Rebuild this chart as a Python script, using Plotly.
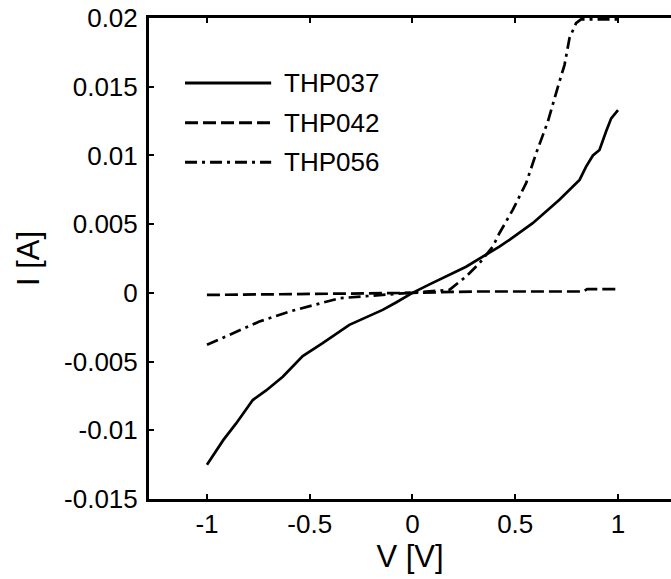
import plotly.graph_objects as go

# ---- data ----
names = ["THP037", "THP042", "THP056"]

v_thp037 = [-1.0, -0.92, -0.858, -0.777, -0.712, -0.631, -0.534, -0.437, -0.307, -0.145,
            -0.08, 0.0, 0.083, 0.261, 0.423, 0.472, 0.585, 0.715, 0.813,
            0.845, 0.878, 0.91, 0.942, 0.967, 1.0]
i_thp037 = [-0.0125, -0.0107, -0.0095, -0.0078, -0.0071, -0.0061, -0.0046, -0.00366, -0.00233, -0.00124,
            -0.0007, 0.0, 0.00062, 0.0019, 0.00337, 0.00386, 0.00507, 0.00677, 0.00822,
            0.00919, 0.0100, 0.0104, 0.01174, 0.0127, 0.0133]

v_thp042 = [-1.0, -0.6, -0.35, -0.3, 0.0, 0.3, 0.6, 0.83, 0.85, 1.0]
i_thp042 = [-0.00015, -0.00012, -0.0001, -0.00005, 0.0, 0.0001, 0.0001, 0.0001, 0.00027, 0.00027]

v_thp056 = [-1.0, -0.858, -0.745, -0.599, -0.47, -0.355, -0.146, 0.0, 0.18, 0.261, 0.326,
            0.391, 0.423, 0.488, 0.553, 0.602, 0.659, 0.708, 0.740, 0.764, 0.796, 0.82, 1.0]
i_thp056 = [-0.00378, -0.00282, -0.00209, -0.00136, -0.00087, -0.00039, -0.00015, 0.0, 0.00022, 0.00119, 0.00216,
            0.00337, 0.00434, 0.00604, 0.00798, 0.01016, 0.01247, 0.01501, 0.01659, 0.01853, 0.01962, 0.0199, 0.0199]

x_ticks = [-1, -0.5, 0, 0.5, 1]
x_ticklabels = ["-1", "-0.5", "0", "0.5", "1"]
y_ticks = [-0.015, -0.01, -0.005, 0, 0.005, 0.01, 0.015, 0.02]
y_ticklabels = ["-0.015", "-0.01", "-0.005", "0", "0.005", "0.01", "0.015", "0.02"]

# ---- styling ----
FONT = "Liberation Sans, Arial, sans-serif"
FS = 26
dashes = ["solid", "13px,5px", "12px,5px,3px,5px"]
series = [(v_thp037, i_thp037), (v_thp042, i_thp042), (v_thp056, i_thp056)]

fig = go.Figure()
for (vx, iy), nm, ds in zip(series, names, dashes):
    fig.add_trace(go.Scatter(x=vx, y=iy, mode="lines", name=nm, showlegend=False,
                             line=dict(color="black", width=2.7, dash=ds)))

# custom legend (MATLAB style, long samples, no box)
leg_y = [0.865, 0.782, 0.700]
for nm, ds, ly in zip(names, dashes, leg_y):
    fig.add_shape(type="line", xref="paper", yref="paper", x0=0.069, x1=0.234, y0=ly, y1=ly,
                  line=dict(color="black", width=3, dash=ds))
    fig.add_annotation(xref="paper", yref="paper", x=0.254, y=ly, text=nm, showarrow=False,
                       xanchor="left", yanchor="middle", font=dict(family=FONT, size=FS, color="black"))

fig.update_layout(
    width=671, height=579,
    margin=dict(l=149, r=0, t=18, b=80),
    paper_bgcolor="white", plot_bgcolor="white",
    font=dict(family=FONT, size=FS, color="black"),
    xaxis=dict(range=[-1.282, 1.258], tickvals=x_ticks, ticktext=x_ticklabels,
               showgrid=False, zeroline=False, showline=True, linewidth=3, linecolor="black",
               mirror="ticks", ticks="inside", ticklen=5, tickwidth=2, tickcolor="black",
               title=dict(text="V [V]", standoff=6), tickfont=dict(size=FS)),
    yaxis=dict(range=[-0.015, 0.02], tickvals=y_ticks, ticktext=y_ticklabels,
               showgrid=False, zeroline=False, showline=True, linewidth=3, linecolor="black",
               mirror=False, ticks="inside", ticklen=5, tickwidth=2, tickcolor="black",
               ticklabelstandoff=3,
               title=dict(text="I [A]", standoff=16), tickfont=dict(size=FS)),
)

fig.write_html("out.html")
